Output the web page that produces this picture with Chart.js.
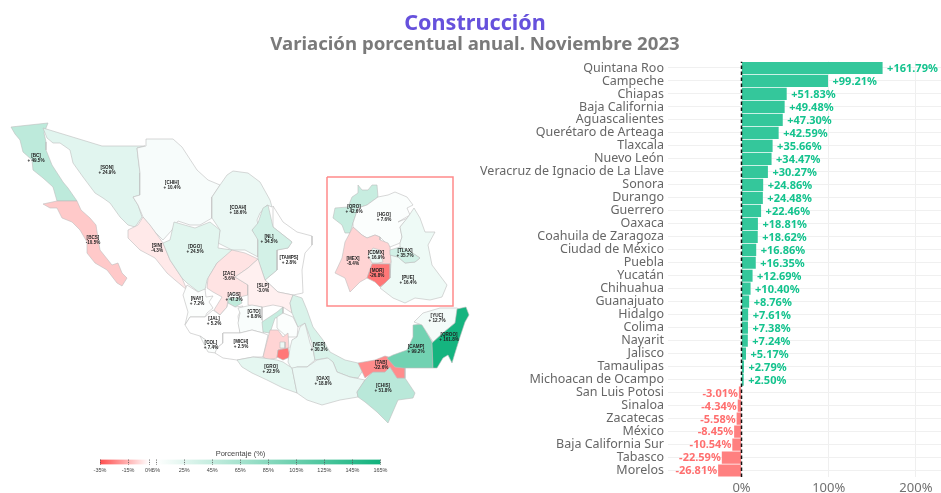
<!DOCTYPE html>
<html><head><meta charset="utf-8">
<style>
html,body{margin:0;padding:0;background:#fff;width:941px;height:493px;overflow:hidden}
canvas{position:absolute;display:block}
#mapCanvas,#legendCanvas{filter:blur(0.6px)}
</style>
<script src="https://cdn.jsdelivr.net/npm/chart.js@4/dist/chart.umd.min.js"></script>
</head><body>
<canvas id="barCanvas" width="950" height="493" style="left:0;top:0;width:950px;height:493px"></canvas>
<canvas id="mapCanvas" width="480" height="493" style="left:0;top:0;width:480px;height:493px"></canvas>
<canvas id="legendCanvas" width="300" height="34" style="left:90px;top:446px;width:300px;height:34px"></canvas>
<script>
const titleText = 'Construcción';
const subtitleText = 'Variación porcentual anual. Noviembre 2023';
const categories = ['Quintana Roo','Campeche','Chiapas','Baja California','Aguascalientes','Querétaro de Arteaga','Tlaxcala','Nuevo León','Veracruz de Ignacio de La Llave','Sonora','Durango','Guerrero','Oaxaca','Coahuila de Zaragoza','Ciudad de México','Puebla','Yucatán','Chihuahua','Guanajuato','Hidalgo','Colima','Nayarit','Jalisco','Tamaulipas','Michoacan de Ocampo','San Luis Potosi','Sinaloa','Zacatecas','México','Baja California Sur','Tabasco','Morelos'];
const values = [161.79,99.21,51.83,49.48,47.30,42.59,35.66,34.47,30.27,24.86,24.48,22.46,18.81,18.62,16.86,16.35,12.69,10.40,8.76,7.61,7.38,7.24,5.17,2.79,2.50,-3.01,-4.34,-5.58,-8.45,-10.54,-22.59,-26.81];
const abbreviations = ['QROO','CAMP','CHIS','BC','AGS','QRO','TLAX','NL','VER','SON','DGO','GRO','OAX','COAH','CDMX','PUE','YUC','CHIH','GTO','HGO','COL','NAY','JAL','TAMPS','MICH','SLP','SIN','ZAC','MEX','BCS','TAB','MOR'];
const barTicks = [0,100,200];
const legendTicks = [-35,-15,0,5,25,45,65,85,105,125,145,165];
const legendTitle = 'Porcentaje (%)';

// Map geometry, in map units: [x,y, x,y, ...]
const shapeBC = [11,127,48,123,44,133,46,142,46,150,52,165,63,182,68,188,77,201,57,201,53,187,43,178,33,170,32,160,23,152,20,140,15,134];
const shapeBCS = [43,204,57,201,77,201,81,210,90,218,96,225,98,238,100,250,112,265,118,263,122,273,127,278,122,286,117,283,107,270,95,263,87,253,87,242,80,230,72,222,62,218,57,208,50,208];
const shapeSON = [43,128,102,146,145,146,137,148,138,157,140,173,140,195,133,197,138,205,142,217,135,227,128,225,120,217,110,203,103,198,95,193,83,177,73,163,70,150,60,143,53,143,47,138];
const shapeCHIH = [146,146,146,139,173,139,182,147,197,170,208,180,220,185,212,197,212,218,200,225,190,225,178,221,172,230,163,240,155,232,143,217,138,205,133,197,140,195,140,173,138,157,137,148];
const shapeCOAH = [220,185,227,175,233,171,248,173,260,182,270,200,272,207,267,205,260,213,257,220,258,225,252,230,258,238,258,257,245,250,232,250,218,243,220,230,212,218,212,197];
const shapeNL = [268,205,273,227,292,242,288,248,277,250,277,270,265,280,258,260,258,240,252,230,258,223,263,208];
const shapeTAMPS = [273,206,283,222,297,232,312,236,312,245,305,253,302,270,303,293,293,295,278,292,265,280,277,270,277,250,288,248,292,242,273,227];
const shapeSIN = [143,217,150,225,163,243,170,260,182,278,187,290,175,280,167,273,155,258,140,250,128,238,128,230,138,225];
const shapeDGO = [163,243,170,240,174,222,195,228,210,222,220,230,218,248,232,250,233,253,217,263,207,280,205,290,200,293,187,283,182,278,170,260];
const shapeZAC = [232,250,245,253,258,259,248,268,235,277,248,285,248,295,240,297,233,292,228,298,227,307,220,315,214,310,222,297,213,292,207,288,208,278,217,263];
const shapeAGS = [228,298,240,298,242,303,235,307,228,303];
const shapeSLP = [258,259,265,280,278,292,293,295,290,303,292,313,283,307,273,305,263,307,248,305,248,285,235,277,248,268];
const shapeNAY = [187,285,198,292,205,289,206,297,213,296,209,302,213,308,207,313,205,317,190,317,185,325,188,312,185,302,183,295];
const shapeJAL = [185,325,190,317,205,317,213,310,220,315,227,307,228,303,235,307,243,306,238,316,240,333,223,333,223,343,217,348,210,343,200,336,190,333];
const shapeCOL = [200,336,210,343,217,348,216,353,208,352];
const shapeGTO = [238,308,252,305,262,307,262,320,267,327,263,333,252,330,240,333,238,323,240,313];
const shapeQRO = [262,322,277,312,283,307,283,317,275,318,270,333,263,332];
const shapeHGO = [277,317,283,313,293,317,298,327,297,337,287,337,277,328];
const shapeMEX = [263,357,270,330,278,330,283,337,288,333,289,348,278,350,277,358,268,360];
const shapeCDMX = [280,342,285,342,285,348,280,348];
const shapeMOR = [278,350,288,348,290,357,283,360,277,357];
const shapeTLAX = [292,340,298,338,305,345,297,348];
const shapePUE = [297,337,300,327,305,323,310,343,313,350,315,360,307,367,297,367,292,370,288,362,290,348,292,340];
const shapeVER = [293,295,302,298,307,310,313,327,323,340,330,352,345,360,358,363,365,367,358,378,350,377,337,372,333,362,327,358,315,360,312,343,305,323,298,327,292,313,290,303];
const shapeGRO = [237,360,253,357,263,358,277,360,283,362,292,368,295,383,297,393,283,388,267,380,252,373,242,367];
const shapeMICH = [223,333,240,333,252,330,263,333,268,335,263,357,253,357,237,360,223,358,215,353,217,348,223,343];
const shapeOAX = [292,368,297,367,307,367,317,360,328,358,333,362,337,372,350,377,365,380,357,392,358,397,340,400,322,405,307,400,297,393,295,383];
const shapeCHIS = [365,380,373,372,385,372,390,367,397,378,405,378,415,393,413,398,398,400,388,423,377,412,365,402,358,397,357,392];
const shapeTAB = [358,363,375,360,385,356,392,358,395,367,405,367,405,378,397,378,390,367,385,372,373,372,365,378];
const shapeCAMP = [413,325,422,324,432,342,433,368,403,368,395,367,387,358,393,355,407,350,413,337];
const shapeYUC = [414,322,423,313,440,308,457,308,460,310,455,323,443,333,433,342,422,325];
const shapeQROO = [457,309,466,307,469,315,465,322,460,337,455,353,452,363,448,355,443,358,437,368,433,368,432,343,443,333,455,323];
// Inset of central Mexico
const insetQRO = [358,185,362,190,368,190,372,185,377,185,378,197,367,205,358,208,353,223,350,233,345,233,342,225,333,218,335,208,348,207,352,197,358,193];
const insetHGO = [378,197,388,195,395,192,407,197,413,205,407,208,410,215,398,222,408,218,400,227,402,237,400,243,390,247,380,237,375,235,367,238,362,235,353,227,353,223,358,208,367,205];
const insetMEX = [353,227,362,235,367,238,375,235,380,237,380,240,388,243,390,247,391,262,390,264,372,264,367,278,360,282,350,292,345,278,335,273,342,258,345,242];
const insetCDMX = [373,248,380,250,383,262,378,263,372,263,368,255];
const insetMOR = [372,264,390,264,390,278,385,283,380,287,375,282,367,278];
const insetTLAX = [390,250,400,247,408,250,420,258,415,262,405,263,398,257,390,255];
const insetPUE = [408,217,414,208,420,218,425,232,435,232,428,245,432,265,447,285,442,297,430,300,415,298,405,303,393,298,380,288,385,283,390,278,391,262,390,255,398,257,405,263,415,262,420,258,408,250,400,247,400,243,402,237,400,227];
const insetFrame = [327,177,453,177,453,306,327,306];

const mapLayers = [
 ['BC',shapeBC],['BCS',shapeBCS],['SON',shapeSON],['CHIH',shapeCHIH],['COAH',shapeCOAH],['TAMPS',shapeTAMPS],['NL',shapeNL],['SIN',shapeSIN],['DGO',shapeDGO],['ZAC',shapeZAC],['SLP',shapeSLP],['AGS',shapeAGS],['NAY',shapeNAY],['JAL',shapeJAL],['COL',shapeCOL],['GTO',shapeGTO],['QRO',shapeQRO],['HGO',shapeHGO],['MICH',shapeMICH],['MEX',shapeMEX],['CDMX',shapeCDMX],['MOR',shapeMOR],['TLAX',shapeTLAX],['PUE',shapePUE],['VER',shapeVER],['GRO',shapeGRO],['OAX',shapeOAX],['CHIS',shapeCHIS],['TAB',shapeTAB],['CAMP',shapeCAMP],['YUC',shapeYUC],['QROO',shapeQROO],
 ['QRO',insetQRO],['HGO',insetHGO],['PUE',insetPUE],['MEX',insetMEX],['CDMX',insetCDMX],['MOR',insetMOR],['TLAX',insetTLAX]
];
// Label anchors in map units
const labelAnchors = {BC:[36,158],SON:[107,170],CHIH:[172,185],COAH:[238,210],NL:[269,239],TAMPS:[289,260],SIN:[157,248],DGO:[195,249],BCS:[93,240],ZAC:[229,276],SLP:[263,288],AGS:[234,297],NAY:[197,301],JAL:[214,321],GTO:[254,314],VER:[319,347],COL:[211,345],MICH:[241,344],GRO:[271,369],OAX:[323,381],CHIS:[383,388],TAB:[381,365],CAMP:[416,349],YUC:[437,318],QROO:[449,337],QRO:[354,209],HGO:[384,217],MEX:[353,261],CDMX:[376,255],TLAX:[405,253],PUE:[408,280],MOR:[377,273]};

const valueOf = a => values[abbreviations.indexOf(a)];
const mix = (a,b,t)=>'rgb('+a.map((c,i)=>Math.round(c+(b[i]-c)*t)).join(',')+')';
const RED=[255,77,77], GREEN=[16,178,124], WHITE=[255,255,255];
function fillFor(v){
  if(v<0) return mix(WHITE,RED,Math.min(1,-v/35));
  if(v<5) return 'rgb(255,255,255)';
  return mix(WHITE,GREEN,Math.min(1,(v-5)/160));
}
const toPoints = f => { const p=[]; for(let i=0;i<f.length;i+=2)p.push({x:f[i],y:f[i+1]}); p.push({x:f[0],y:f[1]}); return p; };

const barLabelPlugin = {
  id:'barLabels',
  afterDatasetsDraw(chart){
    const ctx=chart.ctx, meta=chart.getDatasetMeta(0);
    ctx.save();
    ctx.font='700 11px "Noto Sans"';
    ctx.textBaseline='middle';
    meta.data.forEach((el,i)=>{
      const v=values[i];
      ctx.fillStyle=v>=0?'#14c38e':'#ff6f6f';
      ctx.textAlign=v>=0?'left':'right';
      const t=(v>=0?'+':'')+v.toFixed(2)+'%';
      ctx.fillText(t, el.x+(v>=0?4.5:-1), el.y+0.8);
    });
    ctx.restore();
  }
};
new Chart(document.getElementById('barCanvas'),{
  type:'bar',
  data:{labels:categories,datasets:[
    {type:'bar',data:values,order:2,grouped:false,barPercentage:0.94,categoryPercentage:1,borderWidth:0,
     backgroundColor:c=>c.raw>=0?'#34c79b':'#ff8080',xAxisID:'x',yAxisID:'y'},
    {type:'scatter',data:[{x:0,y:0},{x:0,y:1}],order:1,showLine:true,pointRadius:0,borderColor:'#111',borderWidth:1.5,borderDash:[3.5,2.5],xAxisID:'x',yAxisID:'yLine'}
  ]},
  options:{
    indexAxis:'y',responsive:false,animation:false,devicePixelRatio:1,
    layout:{padding:0},
    plugins:{
      legend:{display:false},tooltip:{enabled:false},
      title:{display:true,text:titleText,color:'#6651dc',font:{family:'"Noto Sans"',size:21.6,weight:'700',lineHeight:1},padding:{top:12.7,bottom:0}},
      subtitle:{display:true,text:subtitleText,color:'#7a7a7a',font:{family:'"Noto Sans"',size:18.6,weight:'700',lineHeight:1},padding:{top:0.9,bottom:7.7}}
    },
    scales:{
      x:{type:'linear',min:-84.3,max:239.1,
        afterBuildTicks:s=>{s.ticks=barTicks.map(v=>({value:v}));},
        afterFit:s=>{s.height=16;},
        grid:{color:'#efefef',lineWidth:1,drawTicks:false},border:{display:false},
        ticks:{callback:v=>v+'%',color:'#707070',font:{family:'"Noto Sans"',size:13},padding:3,maxRotation:0}},
      y:{type:'category',offset:true,afterFit:s=>{s.width=668;},
        grid:{color:'#f0f0f0',lineWidth:1,drawTicks:false,offset:false},border:{display:false},
        ticks:{color:'#666',font:{family:'"Noto Sans"',size:12.5},padding:4,autoSkip:false}},
      yLine:{type:'linear',min:0,max:1,offset:false,display:false}
    }
  },
  plugins:[barLabelPlugin]
});

const mapLabelPlugin = {
  id:'mapLabels',
  afterDatasetsDraw(chart){
    const ctx=chart.ctx,sx=chart.scales.x,sy=chart.scales.y;
    ctx.save();ctx.font='700 4.6px "Liberation Sans"';ctx.textAlign='center';ctx.textBaseline='middle';ctx.fillStyle='#222';
    Object.keys(labelAnchors).forEach(a=>{
      const [x,y]=labelAnchors[a],v=valueOf(a);
      const t=(v>=0?'+ ':'')+v.toFixed(1)+'%';
      ctx.fillText('['+a+']',sx.getPixelForValue(x),sy.getPixelForValue(y)-2.6);
      ctx.fillText(t,sx.getPixelForValue(x),sy.getPixelForValue(y)+2.6);
    });
    ctx.restore();
  }
};
const mapSets = mapLayers.map(([a,f])=>({label:a,data:toPoints(f),showLine:true,pointRadius:0,fill:'shape',tension:0,
  backgroundColor:fillFor(valueOf(a)),borderColor:'#bdbdbd',borderWidth:0.6}));
mapSets.reverse();
mapSets.unshift({label:'inset',data:toPoints(insetFrame),showLine:true,pointRadius:0,fill:false,borderColor:'#ff8b8b',borderWidth:1.5});
new Chart(document.getElementById('mapCanvas'),{
  type:'scatter',
  data:{datasets:mapSets},
  options:{responsive:false,animation:false,devicePixelRatio:1,layout:{padding:0},
    plugins:{legend:{display:false},tooltip:{enabled:false},title:{display:false}},
    scales:{x:{type:'linear',min:0,max:480,display:false},y:{type:'linear',min:0,max:493,reverse:true,display:false}}},
  plugins:[mapLabelPlugin]
});

new Chart(document.getElementById('legendCanvas'),{
  type:'bar',
  data:{labels:[legendTitle],datasets:[{data:[[legendTicks[0],legendTicks[legendTicks.length-1]]],barPercentage:1,categoryPercentage:1,borderWidth:0,
    backgroundColor:c=>{
      const a=c.chart.chartArea; if(!a) return '#ccc';
      const s=c.chart.scales.x, g=c.chart.ctx.createLinearGradient(a.left,0,a.right,0);
      const p=v=>(s.getPixelForValue(v)-a.left)/(a.right-a.left);
      g.addColorStop(p(-35),mix(RED,RED,0)); g.addColorStop(p(0),'rgb(255,255,255)');
      g.addColorStop(p(5),'rgb(255,255,255)'); g.addColorStop(p(165),mix(GREEN,GREEN,0));
      return g;
    }}]},
  options:{indexAxis:'y',responsive:false,animation:false,devicePixelRatio:1,
    layout:{padding:{left:10,right:9}},
    plugins:{legend:{display:false},tooltip:{enabled:false},
      title:{display:true,text:legendTitle,color:'#444',font:{family:'"Liberation Sans"',size:7.5,weight:'400',lineHeight:1.2},padding:{top:3.5,bottom:1}}},
    scales:{
      x:{type:'linear',min:-35,max:165,afterBuildTicks:s=>{s.ticks=legendTicks.map(v=>({value:v}));},
        afterFit:s=>{s.height=15.5;},
        grid:{color:'#555',lineWidth:0.8,drawTicks:false,z:1},border:{display:false,dash:[1.2,1.2]},
        ticks:{callback:v=>v+'%',color:'#444',font:{family:'"Liberation Sans"',size:5.5},padding:2.5,maxRotation:0,autoSkip:false}},
      y:{display:false}
    }}
});
</script>
</body></html>
